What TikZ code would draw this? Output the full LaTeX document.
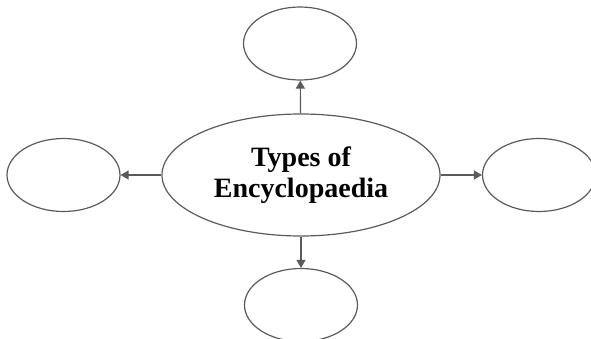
\documentclass[tikz,border=0pt]{standalone}
\usepackage{fontspec}
\setmainfont{Liberation Serif}
\usepackage{xcolor}
\usetikzlibrary{shapes.geometric,arrows.meta}
\definecolor{linegray}{HTML}{5A5A5A}
\tikzset{bubble/.style = {ellipse, draw=linegray, line width=1.2pt,
    inner sep=0pt, minimum width=113pt, minimum height=73pt},
  link/.style = {draw=linegray, line width=1.2pt,
    -{Triangle[length=8pt,width=9pt]}}
  }

\begin{document}
\begin{tikzpicture}[x=1pt,y=-1pt]
        \useasboundingbox (0,0) rectangle (591,339);
        \path (301,175) node[bubble, minimum width=278pt, minimum height=122pt,
              font=\bfseries\fontsize{28}{31}\selectfont, align=center] (main)
              {Types of\\Encyclopaedia}
        (300,43.5) node[bubble] (up) {}
        (301,305) node[bubble] (down) {}
        (63.5,175) node[bubble] (lft) {}
        (539,175) node[bubble] (rgt) {};
        \path
            (main) edge[link] (up)
            (main) edge[link] (down)
            (main) edge[link] (lft)
            (main) edge[link] (rgt);
        \end{tikzpicture}
\end{document}
